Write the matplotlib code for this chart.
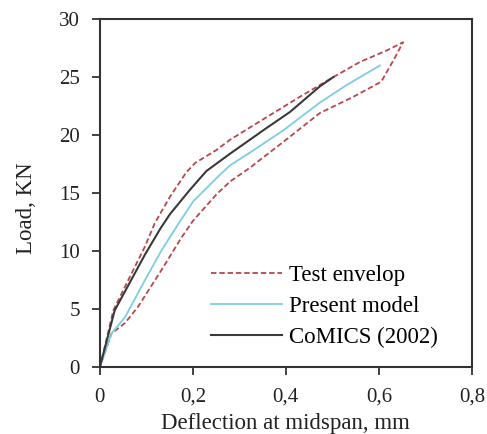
import matplotlib
matplotlib.use("Agg")
import matplotlib.pyplot as plt
from matplotlib.ticker import FuncFormatter

plt.rcParams['font.family'] = ['Liberation Serif', 'DejaVu Serif']

# Test envelop (closed loop: upper branch up to the tip, then back down the lower branch)
env_x = [0, 0.015, 0.029, 0.061, 0.097, 0.118, 0.151, 0.186, 0.205, 0.25, 0.28, 0.373, 0.43, 0.502,
         0.559, 0.617, 0.652,
         0.632, 0.605, 0.545, 0.473, 0.394, 0.323, 0.28, 0.251, 0.2, 0.176, 0.133, 0.082, 0.054,
         0.025, 0]
env_y = [0, 2.5, 4.9, 7.5, 10.4, 12.4, 14.7, 16.8, 17.6, 18.7, 19.6, 21.9, 23.3, 25.0,
         26.3, 27.3, 28.0,
         26.5, 24.6, 23.3, 21.9, 19.4, 17.2, 16.0, 14.9, 12.6, 11.2, 8.4, 5.2, 3.8,
         2.9, 0]

# Present model
model_x = [0, 0.025, 0.054, 0.097, 0.133, 0.168, 0.201, 0.251, 0.28, 0.323, 0.394, 0.473,
           0.53, 0.602]
model_y = [0, 2.9, 4.3, 7.5, 10.1, 12.3, 14.3, 16.3, 17.4, 18.5, 20.4, 22.8,
           24.3, 26.0]

# CoMICS (2002)
comics_x = [0, 0.032, 0.097, 0.131, 0.151, 0.194, 0.229, 0.28, 0.358, 0.409, 0.473, 0.502]
comics_y = [0, 4.9, 9.7, 12.0, 13.2, 15.3, 16.9, 18.4, 20.6, 22.0, 24.2, 25.0]

fig = plt.figure(figsize=(4.87, 4.34), dpi=100)
ax = fig.add_axes([0.205, 0.154, 0.764, 0.802])

ax.plot(env_x, env_y, color='#b8464a', linestyle=(0, (3, 1.6)), lw=1.3, label='Test envelop')
ax.plot(model_x, model_y, color='#7ccde3', lw=1.3, label='Present model')
ax.plot(comics_x, comics_y, color='#3a3a3a', lw=1.5, label='CoMICS (2002)')

ax.set_xlim(0, 0.8)
ax.set_ylim(0, 30)
ax.set_xticks([0, 0.2, 0.4, 0.6, 0.8])
ax.set_yticks([0, 5, 10, 15, 20, 25, 30])
ax.xaxis.set_major_formatter(FuncFormatter(lambda v, p: ('%g' % v).replace('.', ',')))
ax.tick_params(direction='out', length=6, width=1.3, labelsize=15, colors='#333333',
               labelcolor='#222222')
ax.tick_params(axis='x', pad=9)
ax.tick_params(axis='y', pad=8.5)
for s in ax.spines.values():
    s.set_linewidth(1.5)
    s.set_color('#333333')

ax.set_xlabel('Deflection at midspan, mm', fontsize=16.5, color='#222222', labelpad=4)
ax.set_ylabel('Load, KN', fontsize=16.5, color='#222222')
ax.yaxis.set_label_coords(-0.17, 0.457)

ax.legend(loc='upper left', bbox_to_anchor=(0.3, 0.293), frameon=False, fontsize=16.5,
          handlelength=3.1, handletextpad=0.3, labelspacing=0.42, borderpad=0, borderaxespad=0)

fig.savefig('out.png', dpi=100)
